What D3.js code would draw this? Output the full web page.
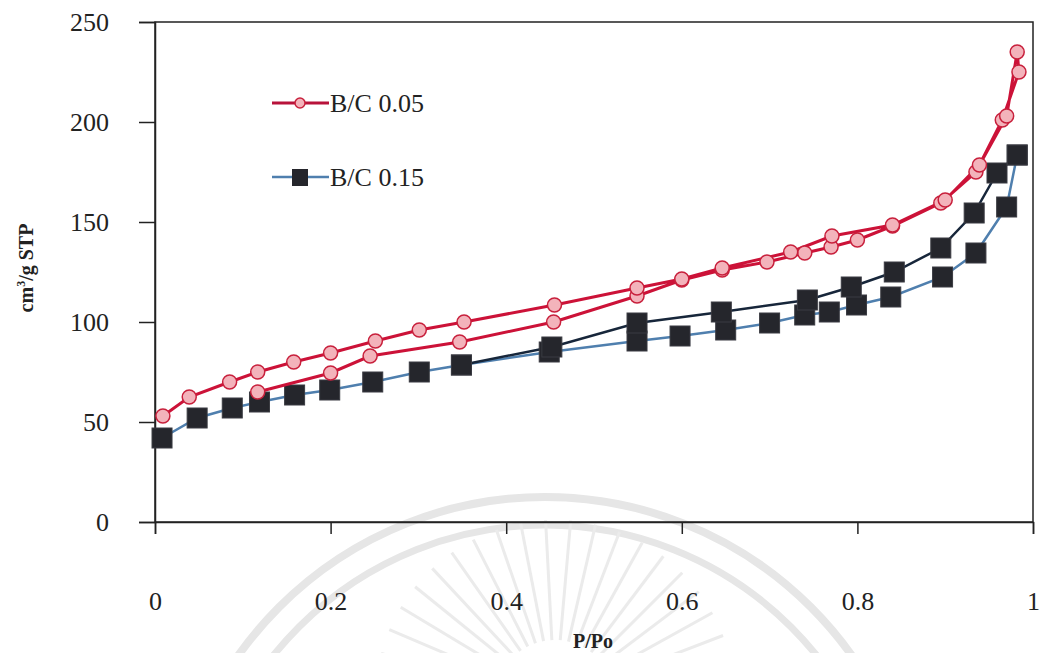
<!DOCTYPE html>
<html>
<head>
<meta charset="utf-8">
<script src="https://cdn.jsdelivr.net/npm/d3@7"></script>
<style>
  body { margin: 0; background: #fff; }
  #display { width: 1044px; height: 653px; }
  svg text { font-family: "Times New Roman", "Liberation Serif", Tinos, serif; }
</style>
</head>
<body>
<div id="display"></div>
<script>
// B/C 0.05 (adsorption then desorption, one path)
var redX = [0.117, 0.2, 0.245, 0.347, 0.454, 0.549, 0.6, 0.646, 0.697, 0.74, 0.77, 0.8, 0.84, 0.895, 0.935, 0.965, 0.984,
            0.982, 0.970, 0.939, 0.9, 0.84, 0.771, 0.724, 0.646, 0.6, 0.549, 0.455, 0.352, 0.301, 0.251, 0.2, 0.158, 0.117, 0.085, 0.039, 0.009]
var redY = [65, 74.5, 83, 90, 100, 113, 121, 126, 130, 134.5, 137.5, 141, 148, 159.5, 175, 201, 225,
            235, 203, 178.5, 161, 148.5, 143, 135, 127, 121.5, 117, 108.5, 100, 96, 90.5, 84.5, 80, 75, 70, 62.5, 53]

// B/C 0.15 adsorption branch
var blueAdsX = [0.008, 0.048, 0.088, 0.119, 0.159, 0.199, 0.248, 0.301, 0.349, 0.449, 0.549, 0.598, 0.65, 0.7, 0.74, 0.768, 0.799, 0.838, 0.897, 0.935, 0.970, 0.982]
var blueAdsY = [42, 52, 57, 60, 63.5, 66, 70, 75, 78.5, 85, 90.5, 93, 96, 99.5, 103.5, 105, 108.5, 112.5, 122.5, 134.5, 157.5, 183.5]
// B/C 0.15 desorption branch
var blueDesX = [0.982, 0.959, 0.933, 0.895, 0.842, 0.793, 0.743, 0.645, 0.549, 0.452, 0.349]
var blueDesY = [183.5, 174.5, 154.5, 137, 125, 117.5, 111, 105, 99.5, 87.5, 78.5]

var xTicks = [0, 0.2, 0.4, 0.6, 0.8, 1]
var yTicks = [0, 50, 100, 150, 200, 250]
var legendNames = ["B/C 0.05", "B/C 0.15"]

var width = 1044, height = 653;
var margin = {left:155, right:11, top:22, bottom:131};
var serif = "'Times New Roman', 'Liberation Serif', Tinos, serif";

var x = d3.scaleLinear().domain([0, 1]).range([margin.left, width - margin.right]);
var y = d3.scaleLinear().domain([0, 250]).range([height - margin.bottom, margin.top]);

var svg = d3.select("#display")
        .append("svg")
        .attr("width", width)
        .attr("height", height);

// faint watermark behind the chart
var wm = svg.append("g").attr("fill", "none").attr("stroke", "#e6e6e6");
wm.append("circle").attr("cx", 545).attr("cy", 873).attr("r", 376).attr("stroke-width", 8);
wm.append("circle").attr("cx", 545).attr("cy", 873).attr("r", 348).attr("stroke-width", 7);
d3.range(-165, -10, 8).forEach(function(a) {
  var r = a * Math.PI / 180;
  wm.append("line")
    .attr("x1", 555 + Math.cos(r) * 60).attr("y1", 700 + Math.sin(r) * 60)
    .attr("x2", 555 + Math.cos(r) * 180).attr("y2", 700 + Math.sin(r) * 180)
    .attr("stroke", "#ebebeb")
    .attr("stroke-width", 3);
});

// frame
svg.append("rect")
    .attr("x", x(0)).attr("y", y(250))
    .attr("width", x(1) - x(0)).attr("height", y(0) - y(250))
    .attr("fill", "none").attr("stroke", "#222").attr("stroke-width", 1.5);

var xAxis = g => g
    .attr("transform", `translate(0,${y(0)})`)
    .call(d3.axisBottom(x).tickValues(xTicks).tickFormat(d3.format("")).tickSize(12).tickPadding(58))
    .call(g => g.attr("font-family", serif).attr("font-size", 26))
    .call(g => g.select(".domain").attr("stroke", "#222").attr("stroke-width", 1.5))
    .call(g => g.selectAll(".tick line").attr("stroke", "#222").attr("stroke-width", 1.5))
    .call(g => g.selectAll("text").attr("fill", "#222"));

var yAxis = g => g
    .attr("transform", `translate(${x(0)},0)`)
    .call(d3.axisLeft(y).tickValues(yTicks).tickSize(16).tickPadding(30))
    .call(g => g.attr("font-family", serif).attr("font-size", 26))
    .call(g => g.select(".domain").attr("stroke", "#222").attr("stroke-width", 1.5))
    .call(g => g.selectAll(".tick line").attr("stroke", "#222").attr("stroke-width", 1.5))
    .call(g => g.selectAll("text").attr("fill", "#222"));

svg.append("g").call(xAxis);
svg.append("g").call(yAxis);

// axis titles
svg.append("text")
    .attr("x", 593).attr("y", 648)
    .attr("text-anchor", "middle")
    .attr("font-weight", "bold")
    .attr("font-size", 20)
    .attr("fill", "#222")
    .text("P/Po");

var yt = svg.append("text")
    .attr("transform", "translate(33,268) rotate(-90)")
    .attr("text-anchor", "middle")
    .attr("font-weight", "bold")
    .attr("font-size", 20)
    .attr("fill", "#222");
yt.append("tspan").text("cm");
yt.append("tspan").attr("font-size", 12).attr("dy", -8).text("3");
yt.append("tspan").attr("dy", 8).text("/g STP");

var line = d3.line().x(d => x(d[0])).y(d => y(d[1]));
var red = d3.zip(redX, redY);
var blueAds = d3.zip(blueAdsX, blueAdsY);
var blueDes = d3.zip(blueDesX, blueDesY);

svg.append("path").datum(blueAds)
    .attr("d", line).attr("fill", "none").attr("stroke", "#4f7fae").attr("stroke-width", 2.5);
svg.append("path").datum(blueDes)
    .attr("d", line).attr("fill", "none").attr("stroke", "#17263a").attr("stroke-width", 2.5);

svg.append("g").selectAll("rect")
    .data(blueAds.concat(blueDes))
    .join("rect")
      .attr("x", d => x(d[0]) - 10)
      .attr("y", d => y(d[1]) - 10)
      .attr("width", 20).attr("height", 20)
      .attr("fill", "#25262c").attr("stroke", "#3a3b42").attr("stroke-width", 1);

svg.append("path").datum(red)
    .attr("d", line).attr("fill", "none").attr("stroke", "#cc1238").attr("stroke-width", 3);

svg.append("g").selectAll("circle")
    .data(red)
    .join("circle")
      .attr("cx", d => x(d[0]))
      .attr("cy", d => y(d[1]))
      .attr("r", 7)
      .attr("fill", "#f3b3bb").attr("stroke", "#c8203c").attr("stroke-width", 1.5);

// legend
var lg = svg.append("g");
lg.append("line").attr("x1", 272).attr("x2", 329).attr("y1", 103).attr("y2", 103)
    .attr("stroke", "#b8123a").attr("stroke-width", 3);
lg.append("circle").attr("cx", 300).attr("cy", 103).attr("r", 5)
    .attr("fill", "#f3b3bb").attr("stroke", "#c8203c").attr("stroke-width", 1.5);
lg.append("line").attr("x1", 272).attr("x2", 329).attr("y1", 177).attr("y2", 177)
    .attr("stroke", "#4f7fae").attr("stroke-width", 2.5);
lg.append("rect").attr("x", 292).attr("y", 169).attr("width", 16).attr("height", 17)
    .attr("fill", "#25262c");
lg.selectAll("text")
    .data(legendNames)
    .join("text")
      .attr("x", 330)
      .attr("y", (d, i) => 103 + i * 74)
      .attr("dy", "0.35em")
      .attr("font-size", 26)
      .attr("font-family", serif)
      .attr("fill", "#222")
      .text(d => d);
</script>
</body>
</html>
